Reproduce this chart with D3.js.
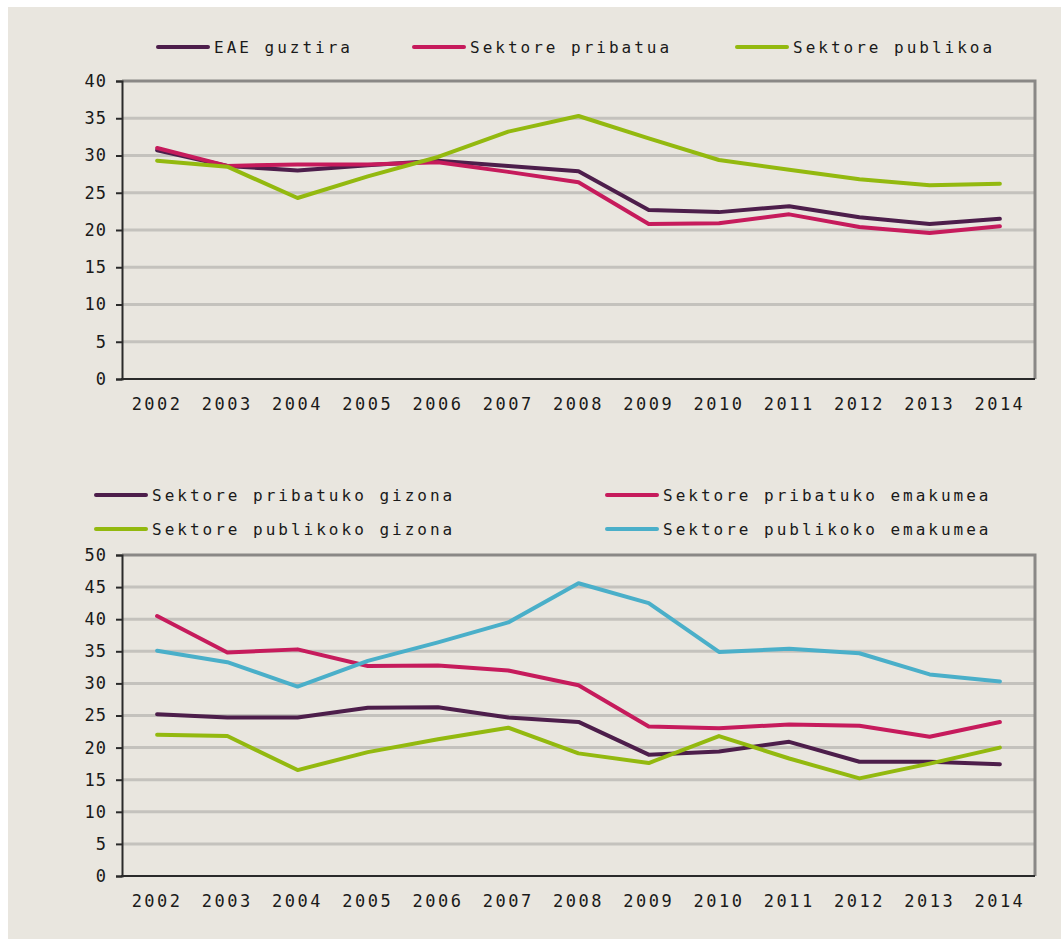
<!DOCTYPE html>
<html>
<head>
<meta charset="utf-8">
<script src="https://cdn.jsdelivr.net/npm/d3@7"></script>
<style>
  body { margin: 0; background: #fff; }
  svg { display: block; }
  text { font-family: "DejaVu Sans Mono", monospace; fill: #1a1a1a; }
</style>
</head>
<body>
<svg id="chart" width="1064" height="939"></svg>
<script>
// years on the x axis
const years = ["2002","2003","2004","2005","2006","2007","2008","2009","2010","2011","2012","2013","2014"];

// top chart series
const eaeGuztira      = [30.7, 28.6, 28.0, 28.7, 29.3, 28.6, 27.9, 22.7, 22.4, 23.2, 21.7, 20.8, 21.5];
const sektorePribatua = [31.0, 28.6, 28.8, 28.8, 29.1, 27.8, 26.4, 20.8, 20.9, 22.1, 20.4, 19.6, 20.5];
const sektorePublikoa = [29.3, 28.5, 24.3, 27.2, 29.8, 33.2, 35.3, 32.3, 29.4, 28.1, 26.8, 26.0, 26.2];

// bottom chart series
const pribGizona   = [25.2, 24.7, 24.7, 26.2, 26.3, 24.7, 24.0, 18.9, 19.4, 20.9, 17.8, 17.8, 17.4];
const pribEmakumea = [40.5, 34.8, 35.3, 32.7, 32.8, 32.0, 29.7, 23.3, 23.0, 23.6, 23.4, 21.7, 24.0];
const publGizona   = [22.0, 21.8, 16.5, 19.3, 21.3, 23.1, 19.1, 17.6, 21.8, 18.3, 15.2, 17.5, 20.0];
const publEmakumea = [35.1, 33.3, 29.5, 33.5, 36.4, 39.5, 45.6, 42.5, 34.9, 35.4, 34.7, 31.4, 30.3];

const topTicks = [0, 5, 10, 15, 20, 25, 30, 35, 40];
const bottomTicks = [0, 5, 10, 15, 20, 25, 30, 35, 40, 45, 50];

const colors = {
  dark: "#4d1e4b",
  pink: "#c61b5c",
  green: "#93b90f",
  blue: "#4aafc9"
};

const svg = d3.select("#chart");

// beige panel
svg.append("rect")
   .attr("x", 8).attr("y", 7)
   .attr("width", 1053).attr("height", 932)
   .attr("fill", "#e9e6df");

// draws one line chart into the panel
function drawChart(cfg) {
  const x = d3.scalePoint()
              .domain(years)
              .range([cfg.left, cfg.right])
              .padding(0.5);

  const y = d3.scaleLinear()
              .domain([0, cfg.max])
              .range([cfg.bottom, cfg.top]);

  const g = svg.append("g");

  // gridlines
  g.selectAll(".grid")
   .data(cfg.ticks.filter(t => t > 0 && t < cfg.max))
   .enter().append("line")
     .attr("x1", cfg.left).attr("x2", cfg.right)
     .attr("y1", d => y(d)).attr("y2", d => y(d))
     .attr("stroke", "#c4c2bd")
     .attr("stroke-width", 3);

  // top and right border
  g.append("path")
   .attr("d", `M${cfg.left},${y(cfg.max)} H${cfg.right} V${cfg.bottom}`)
   .attr("fill", "none")
   .attr("stroke", "#8a8886")
   .attr("stroke-width", 3);

  // y axis
  const yAxis = d3.axisLeft(y).tickValues(cfg.ticks).tickSize(6).tickPadding(9);
  const ya = g.append("g")
              .attr("transform", `translate(${cfg.left},0)`)
              .call(yAxis);
  ya.select(".domain").attr("stroke", "#2a2a2a").attr("stroke-width", 2);
  ya.selectAll(".tick line").attr("stroke", "#2a2a2a").attr("stroke-width", 2);
  ya.selectAll("text")
    .style("font-size", "17px")
    .style("letter-spacing", "1px")
    .attr("fill", "#1a1a1a");

  // x axis line
  g.append("line")
   .attr("x1", cfg.left - 1).attr("x2", cfg.right)
   .attr("y1", cfg.bottom).attr("y2", cfg.bottom)
   .attr("stroke", "#2a2a2a").attr("stroke-width", 2);

  g.selectAll(".xlab")
   .data(years)
   .enter().append("text")
     .attr("x", d => x(d))
     .attr("y", cfg.bottom + 25)
     .attr("dy", "0.35em")
     .attr("text-anchor", "middle")
     .style("font-size", "17px")
     .style("letter-spacing", "2.5px")
     .text(d => d);

  const line = d3.line()
                 .x((d, i) => x(years[i]))
                 .y(d => y(d));

  cfg.series.forEach(s => {
    g.append("path")
     .datum(s.values)
     .attr("d", line)
     .attr("fill", "none")
     .attr("stroke", s.color)
     .attr("stroke-width", 4)
     .attr("stroke-linejoin", "round")
     .attr("stroke-linecap", "round");
  });

  // legend
  cfg.series.forEach(s => {
    const lg = svg.append("g").attr("transform", `translate(${s.lx},${s.ly})`);
    lg.append("line")
      .attr("x1", 0).attr("x2", 50)
      .attr("stroke", s.color)
      .attr("stroke-width", 4)
      .attr("stroke-linecap", "round");
    lg.append("text")
      .attr("x", 56)
      .attr("dy", "0.35em")
      .style("font-size", "16px")
      .style("letter-spacing", "3px")
      .text(s.name);
  });
}

drawChart({
  left: 122, right: 1035, top: 81, bottom: 379, max: 40,
  ticks: topTicks,
  series: [
    { name: "EAE guztira",       values: eaeGuztira,      color: colors.dark,  lx: 158, ly: 47 },
    { name: "Sektore pribatua",  values: sektorePribatua, color: colors.pink,  lx: 414, ly: 47 },
    { name: "Sektore publikoa",  values: sektorePublikoa, color: colors.green, lx: 737, ly: 47 }
  ]
});

drawChart({
  left: 122, right: 1035, top: 555, bottom: 876, max: 50,
  ticks: bottomTicks,
  series: [
    { name: "Sektore pribatuko gizona",   values: pribGizona,   color: colors.dark,  lx: 96,  ly: 495 },
    { name: "Sektore pribatuko emakumea", values: pribEmakumea, color: colors.pink,  lx: 607, ly: 495 },
    { name: "Sektore publikoko gizona",   values: publGizona,   color: colors.green, lx: 96,  ly: 529 },
    { name: "Sektore publikoko emakumea", values: publEmakumea, color: colors.blue,  lx: 607, ly: 529 }
  ]
});
</script>
</body>
</html>
